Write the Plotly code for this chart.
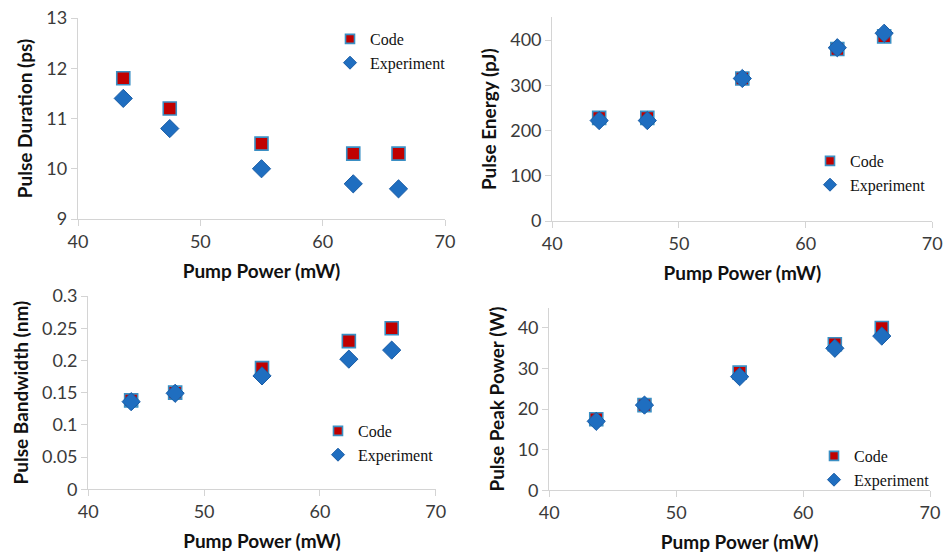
import plotly.graph_objects as go

# Pump power sweep shared by all four panels (mW)
pump_power = [43.7, 47.5, 55.0, 62.5, 66.2]

# Pulse duration (ps)
duration_code = [11.8, 11.2, 10.5, 10.3, 10.3]
duration_exp = [11.4, 10.8, 10.0, 9.7, 9.6]

# Pulse energy (pJ)
energy_code = [228, 228, 315, 380, 408]
energy_exp = [222, 222, 315, 383, 415]

# Pulse bandwidth (nm)
bandwidth_code = [0.138, 0.150, 0.188, 0.230, 0.250]
bandwidth_exp = [0.136, 0.149, 0.176, 0.202, 0.216]

# Pulse peak power (W)
peak_code = [17.5, 21.0, 29.0, 36.0, 40.0]
peak_exp = [17.0, 21.0, 28.0, 35.0, 38.0]

series_names = ["Code", "Experiment"]
y_titles = ["Pulse Duration (ps)", "Pulse Energy (pJ)",
            "Pulse Bandwidth (nm)", "Pulse Peak Power (W)"]
x_title = "Pump Power (mW)"

W, H = 944, 556

panels = [
    (duration_code, duration_exp),
    (energy_code, energy_exp),
    (bandwidth_code, bandwidth_exp),
    (peak_code, peak_exp),
]

# pixel frames of each plotting area: (left, right, bottom, top)
frames = [
    (78, 445, 219, 18),
    (552.3, 932.3, 221, 17.4),
    (88.3, 435.7, 489.3, 296),
    (549.3, 930, 490.3, 307.7),
]
y_ranges = [[9, 13], [0, 450], [0, 0.3], [0, 45]]
y_dticks = [1, 100, 0.05, 10]
# legend anchor (left, top) in pixels
legend_pos = [(330, 22), (810, 144), (318, 414), (814, 439)]

fig = go.Figure()

code_style = dict(symbol="square", color="#C00000",
                  line=dict(color="#3A8FC4", width=1.6))
exp_style = dict(symbol="diamond", color="#1F6EC0",
                 line=dict(color="#1A5DA6", width=1))

for i, (code_vals, exp_vals) in enumerate(panels):
    n = "" if i == 0 else str(i + 1)
    leg = "legend" + n
    for name, vals, style, size, key in (
        (series_names[0], code_vals, code_style, 13, "c"),
        (series_names[1], exp_vals, exp_style, 14, "e"),
    ):
        # data markers
        fig.add_trace(go.Scatter(
            x=pump_power, y=vals, mode="markers", name=name,
            marker=dict(style, size=size), xaxis="x" + n, yaxis="y" + n,
            legend=leg, legendgroup=key + n, showlegend=False))
        # compact legend key for the same series
        fig.add_trace(go.Scatter(
            x=[None], y=[None], mode="markers", name=name,
            marker=dict(style, size=size - 4), xaxis="x" + n,
            yaxis="y" + n, legend=leg, legendgroup=key + n,
            showlegend=True, hoverinfo="skip"))

axis_common = dict(
    showline=True, linecolor="#D4D4D4", linewidth=1.3,
    ticks="outside", ticklen=6, tickcolor="#D4D4D4", tickwidth=1.3,
    showgrid=False, zeroline=False, automargin=False,
    tickfont=dict(family="Lato", size=18, color="#3A3A3A"),
)
title_font = dict(family="Lato", size=19, color="#111111", weight="bold")

layout = dict(
    width=W, height=H,
    margin=dict(l=0, r=0, t=0, b=0),
    paper_bgcolor="white", plot_bgcolor="white",
    showlegend=True,
)

for i in range(4):
    n = "" if i == 0 else str(i + 1)
    left, right, bottom, top = frames[i]
    layout["xaxis" + n] = dict(
        axis_common,
        domain=[left / W, right / W],
        range=[40, 70], dtick=10,
        anchor="y" + n,
        title=dict(text=x_title, font=title_font, standoff=13),
    )
    layout["yaxis" + n] = dict(
        axis_common,
        domain=[1 - bottom / H, 1 - top / H],
        range=y_ranges[i], dtick=y_dticks[i],
        anchor="x" + n,
        title=dict(text=y_titles[i], font=title_font, standoff=8),
    )
    lx, ly = legend_pos[i]
    layout["legend" + n] = dict(
        x=lx / W, y=1 - ly / H, xanchor="left", yanchor="top",
        bgcolor="rgba(0,0,0,0)", borderwidth=0,
        font=dict(family="Liberation Serif", size=16, color="#111111"),
        tracegroupgap=0, itemwidth=30, itemsizing="trace",
    )

fig.update_layout(**layout)
fig.write_html("out.html")
